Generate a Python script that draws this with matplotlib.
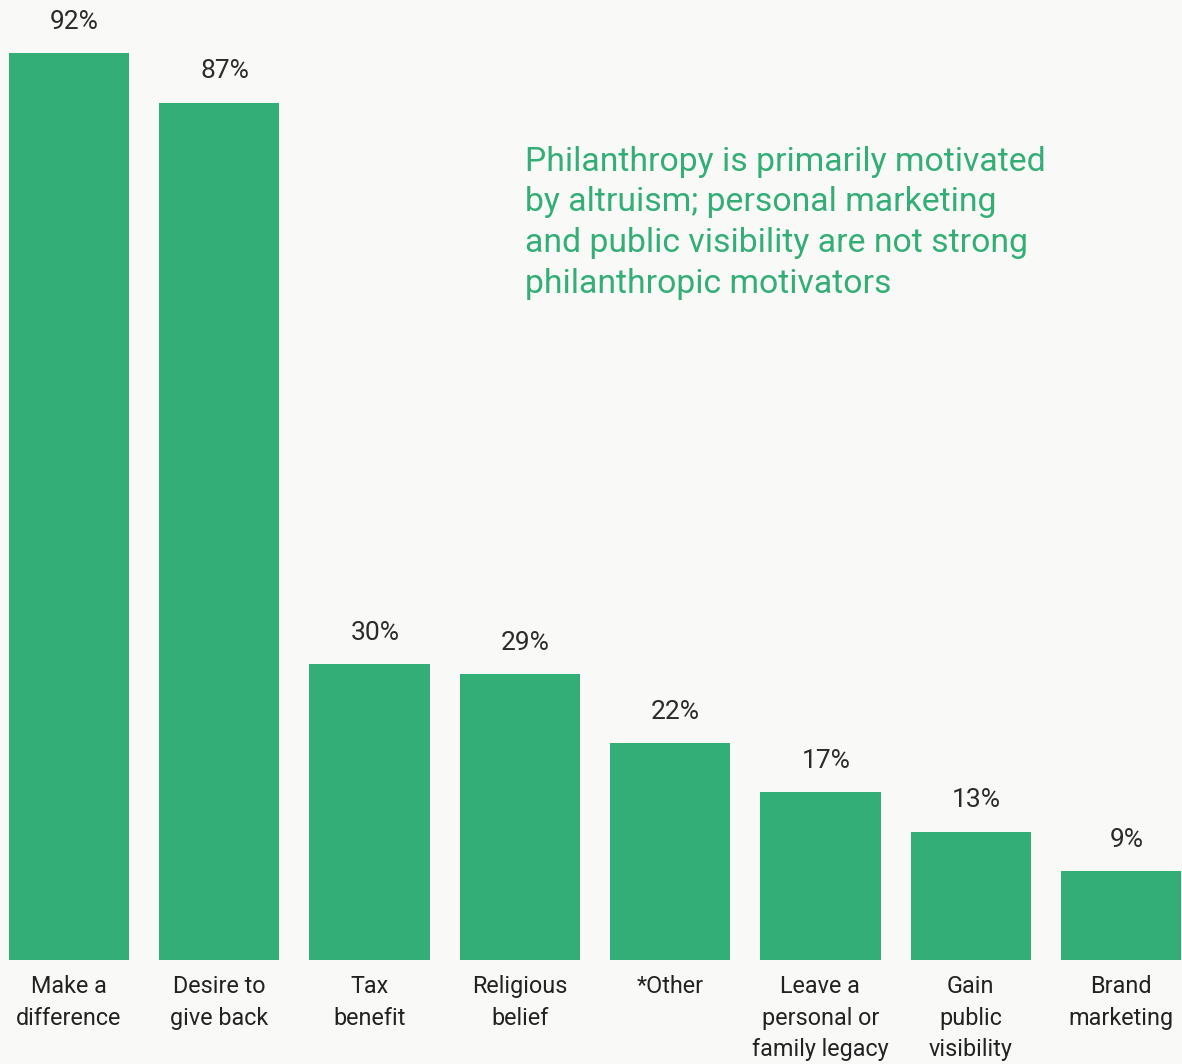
import matplotlib.pyplot as plt

categories = ["Make a\ndifference", "Desire to\ngive back", "Tax\nbenefit", "Religious\nbelief",
              "*Other", "Leave a\npersonal or\nfamily legacy", "Gain\npublic\nvisibility", "Brand\nmarketing"]
values = [92, 87, 30, 29, 22, 17, 13, 9]

green = "#32AE76"
bg = "#F9F9F7"
dark = "#222222"

fig = plt.figure(figsize=(11.82, 10.64), dpi=100, facecolor=bg)
ax = fig.add_axes([0, 104 / 1064, 1, 960 / 1064])
ax.set_facecolor(bg)

x = list(range(len(values)))
ax.bar(x, values, width=0.8, color=green)
ax.set_xlim(-0.459, 7.406)
ax.set_ylim(0, 97.4)

# value labels sit just above each bar
for xi, v in zip(x, values):
    ax.annotate(f"{v}%", (xi, v), xytext=(4, 14), textcoords="offset points",
                ha="center", va="bottom", fontsize=19, color="#2b2b2b",
                family="Roboto")

ax.set_xticks(x)
ax.set_xticklabels(categories, fontsize=16.8, color=dark, family="Roboto",
                   linespacing=1.46, va="top")
ax.tick_params(axis="x", length=0, pad=11)
ax.set_yticks([])
for s in ax.spines.values():
    s.set_visible(False)

ax.text(525 / 1182, 1 - 146 / 960, "Philanthropy is primarily motivated\nby altruism; personal marketing\n"
        "and public visibility are not strong\nphilanthropic motivators",
        transform=ax.transAxes, ha="left", va="top", fontsize=24.3, color=green,
        family="Roboto", linespacing=1.34)

fig.savefig("out.png", dpi=100, facecolor=bg)
